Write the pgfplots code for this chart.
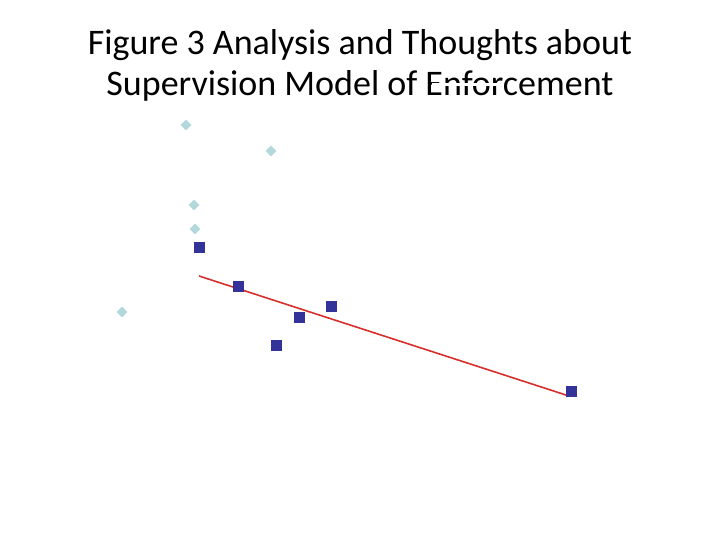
\documentclass[border=0pt]{standalone}
\usepackage{fontspec}
\setmainfont{Carlito}
\usepackage{pgfplots}
\pgfplotsset{compat=1.18}
\definecolor{paleblue}{RGB}{178,216,220}
\definecolor{navyblue}{RGB}{51,51,153}
\definecolor{trendred}{RGB}{214,48,44}
\begin{document}
\begin{tikzpicture}
\begin{axis}[
  width=720pt, height=540pt, scale only axis,
  xmin=0, xmax=720, ymin=0, ymax=540,
  hide axis, clip=false,
]
% light series (pixel coords, y flipped)
\addplot[only marks, mark=square*, mark size=3.6pt,
  mark options={rotate=45, fill=paleblue, draw=paleblue}] coordinates {
  (186,415) (271,389) (194,335) (195,311) (122,228)
};
% dark series
\addplot[only marks, mark=square*, mark size=5pt,
  mark options={fill=navyblue, draw=navyblue}] coordinates {
  (199,293) (238,254) (299,223) (331,234) (276,195) (571,149)
};
% trend line
\addplot[trendred, line width=1.6pt] coordinates {
  (199,264) (569,144)
};
\path (axis cs:0,0) rectangle (axis cs:720,540);
\node[anchor=base, font=\fontsize{36}{43}\selectfont] at (axis cs:360,485)
  {Figure 3 Analysis and Thoughts about};
\node[anchor=base, font=\fontsize{36}{43}\selectfont] at (axis cs:360,444)
  {Supervision Model of Enforcement};
\fill[white] (axis cs:432,457) rectangle (axis cs:500,454);
\end{axis}
\end{tikzpicture}
\end{document}
